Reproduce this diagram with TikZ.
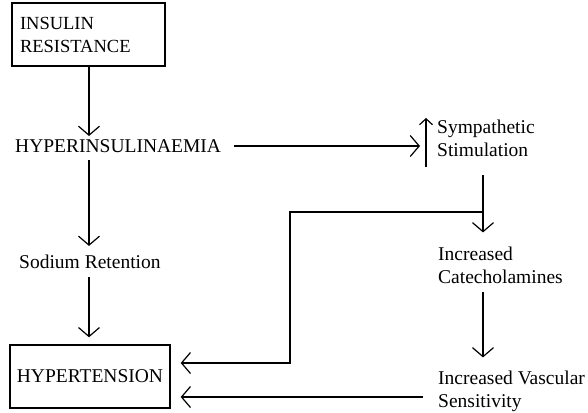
\documentclass[tikz,border=0pt]{standalone}
\usepackage{fontspec}
\setmainfont{Liberation Serif}
\usetikzlibrary{arrows.meta}

\tikzset{
    lbl/.style={inner sep=0pt, align=left, anchor=west, font=\fontsize{19.5}{23}\selectfont},
    boxed/.style={draw, line width=1.4pt, inner sep=0pt, minimum height=63pt},
    arr/.style={line width=1.2pt, -{Straight Barb[length=9pt,width=21pt,line width=1.2pt]}},
    uparr/.style={line width=1.2pt, -{Straight Barb[length=6pt,width=13pt,line width=1.2pt]}}
}

\begin{document}
\begin{tikzpicture}[x=1pt,y=-1pt]
    \useasboundingbox (0,0) rectangle (588,412);
    % left column
    \node[boxed, minimum width=153pt, text width=137pt, align=left,
          font=\fontsize{18.5}{23}\selectfont] (ir) at (88.5,34.5) {INSULIN\\RESISTANCE};
    \node[lbl] (hyp) at (15,146) {HYPERINSULINAEMIA};
    \node[lbl] (sod) at (19,262) {Sodium Retention};
    \node[boxed, minimum width=160pt, font=\fontsize{19.5}{23}\selectfont] (ht) at (90,376.5) {HYPERTENSION};
    % right column
    \node[lbl] (symp) at (437,138.5) {Sympathetic\\Stimulation};
    \node[lbl] (cat) at (438,265) {Increased\\Catecholamines};
    \node[lbl] (vas) at (438,391) {Increased Vascular\\Sensitivity};
    \coordinate (spine) at (483,0);
    \coordinate (fork) at (483,212);
    \coordinate (bend) at (290,212);
    % arrows
    \draw[arr] (ir.south -| 89,0) -- (89,136);
    \draw[arr, shorten <=7pt, shorten >=9pt] (hyp.south -| 89,0) -- (sod.north -| 89,0);
    \draw[arr, shorten <=8pt, shorten >=7pt] (sod.south -| 89,0) -- (ht.north -| 89,0);
    \draw[arr, shorten <=13pt, shorten >=17pt] (hyp.east) -- (hyp.east -| symp.west);
    \draw[uparr] ([xshift=-11pt,yshift=-10pt]symp.south west) -- ([xshift=-11pt,yshift=2pt]symp.north west);
    \draw[arr, shorten <=18pt, shorten >=14pt] (symp.south -| spine) -- (cat.north -| spine);
    \draw[arr, shorten <=8pt, shorten >=13pt] (cat.south -| spine) -- (vas.north -| spine);
    \draw[arr, shorten >=10pt] (fork) -- (bend) |- ([yshift=13.5pt]ht.east);
    \draw[arr, shorten <=15pt, shorten >=10pt] ([yshift=-6pt]vas.west) -- ([yshift=-6pt]vas.west -| ht.east);
\end{tikzpicture}
\end{document}
